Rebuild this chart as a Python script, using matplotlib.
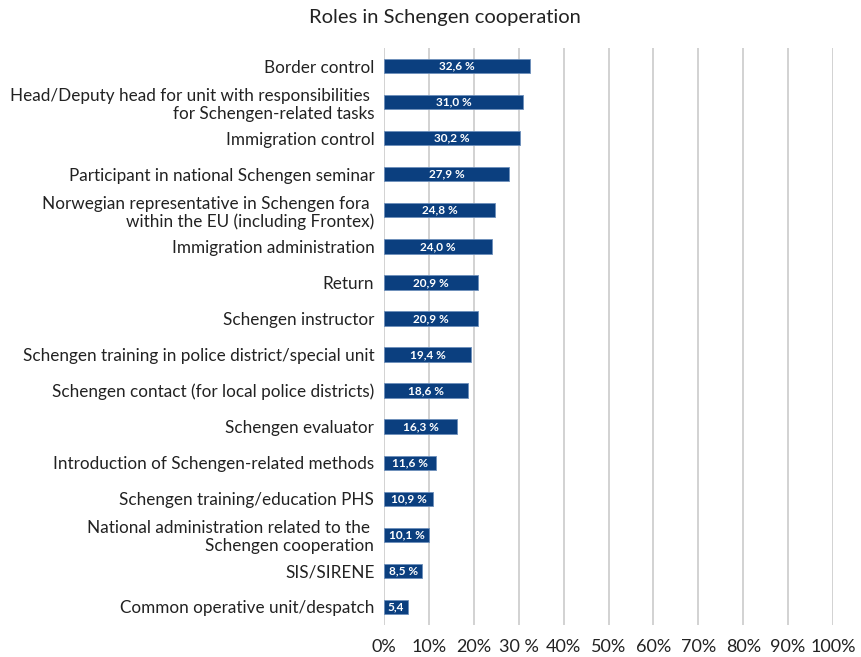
#!/usr/bin/env python3
"""Horizontal bar chart: roles in Schengen cooperation."""

import matplotlib
matplotlib.use("Agg")
import matplotlib.pyplot as plt
import numpy as np

plt.rcParams["font.family"] = ["Lato", "DejaVu Sans"]

ROLES = [
    "Border control",
    "Head/Deputy head for unit with responsibilities \nfor Schengen-related tasks",
    "Immigration control",
    "Participant in national Schengen seminar",
    "Norwegian representative in Schengen fora \nwithin the EU (including Frontex)",
    "Immigration administration",
    "Return",
    "Schengen instructor",
    "Schengen training in police district/special unit",
    "Schengen contact (for local police districts)",
    "Schengen evaluator",
    "Introduction of Schengen-related methods",
    "Schengen training/education PHS",
    "National administration related to the \nSchengen cooperation",
    "SIS/SIRENE",
    "Common operative unit/despatch",
]
SHARES = [32.6, 31.0, 30.2, 27.9, 24.8, 24.0, 20.9, 20.9, 19.4, 18.6,
          16.3, 11.6, 10.9, 10.1, 8.5, 5.4]
BAR_LABELS = ["32,6 %", "31,0 %", "30,2 %", "27,9 %", "24,8 %", "24,0 %",
              "20,9 %", "20,9 %", "19,4 %", "18,6 %", "16,3 %", "11,6 %",
              "10,9 %", "10,1 %", "8,5 %", "5,4"]
TICKS = [0, 10, 20, 30, 40, 50, 60, 70, 80, 90, 100]
TICK_LABELS = ["0%", "10%", "20%", "30 %", "40%", "50%", "60%", "70%",
               "80%", "90%", "100%"]

BAR_COLOR = "#0b3f7f"
GRID_COLOR = "#cfcfcf"
TEXT_COLOR = "#222222"

fig = plt.figure(figsize=(8.61, 6.57), dpi=100)
ax = fig.add_axes([384 / 861, 1 - 625 / 657, (833 - 384) / 861, (625 - 48) / 657])

y = np.arange(len(ROLES))
bars = ax.barh(y, SHARES, height=0.4, color=BAR_COLOR,
               edgecolor="#6d8fbb", linewidth=0.6, zorder=3)
for bar, text in zip(bars, BAR_LABELS):
    ax.text(bar.get_width() / 2, bar.get_y() + bar.get_height() / 2, text,
            ha="center", va="center", color="white", fontsize=8.5,
            fontweight="bold", zorder=4)

ax.set_xlim(0, 100)
ax.set_ylim(len(ROLES) - 0.5, -0.5)
ax.set_xticks(TICKS)
ax.set_xticklabels(TICK_LABELS, fontsize=13, color=TEXT_COLOR)
ax.set_yticks(y)
ax.set_yticklabels(ROLES, fontsize=12.3, color=TEXT_COLOR, linespacing=1.15)
ax.tick_params(axis="both", length=0)
ax.tick_params(axis="y", pad=7)
ax.tick_params(axis="x", pad=10)

ax.grid(axis="x", color=GRID_COLOR, linewidth=1.3, zorder=0)
for spine in ax.spines.values():
    spine.set_visible(False)

fig.text(445 / 861, 1 - 17 / 657, "Roles in Schengen cooperation",
         ha="center", va="center", fontsize=14.5, color=TEXT_COLOR)

fig.savefig("out.png", dpi=100)
